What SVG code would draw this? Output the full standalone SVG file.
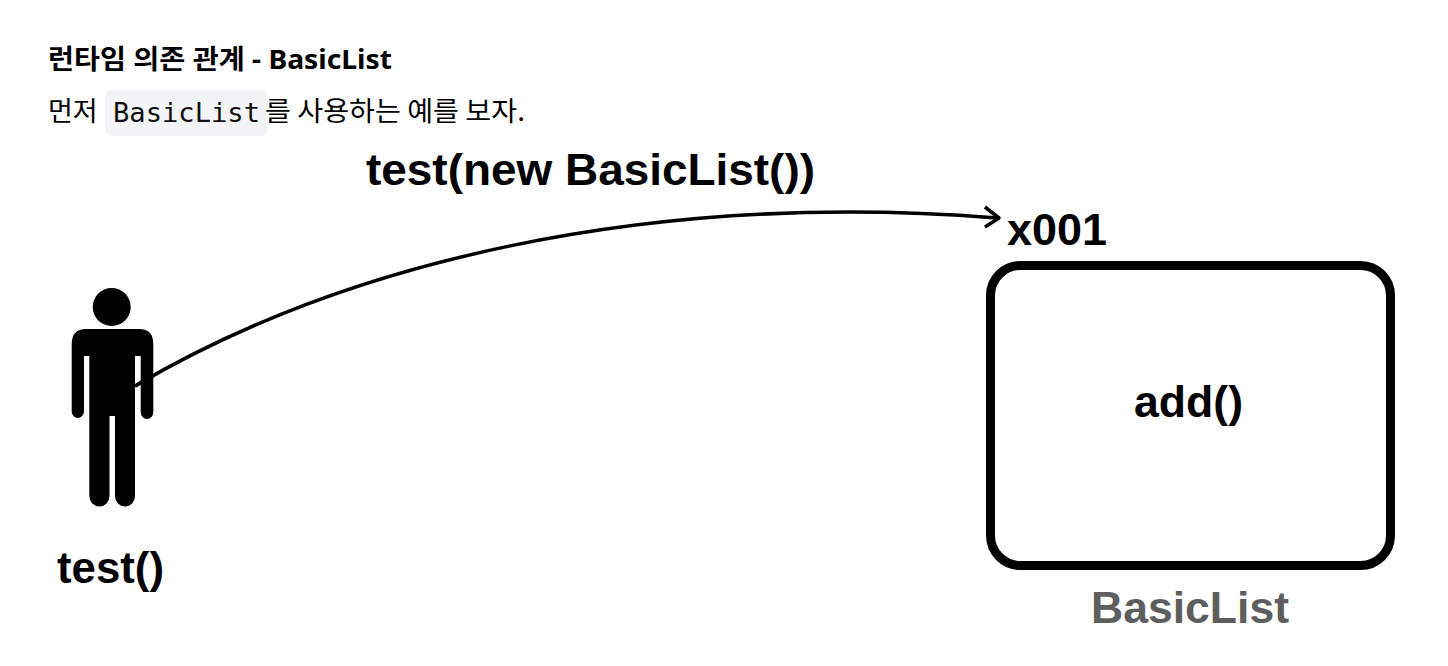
<svg xmlns="http://www.w3.org/2000/svg" width="1448" height="666" viewBox="0 0 1448 666">
<style>
.h{font-family:"Noto Sans","Noto Sans CJK KR",sans-serif;font-weight:700;font-size:27px;fill:#000}
.p{font-family:"Noto Sans CJK KR","Noto Sans",sans-serif;font-size:27px;fill:#000}
.m{font-family:"DejaVu Sans Mono","Liberation Mono",monospace;font-size:26px;fill:#111}
.l{font-family:"Liberation Sans",Arial,sans-serif;font-weight:700;font-size:44px;fill:#000}
</style>
<rect width="1448" height="666" fill="#fff"/>
<g id="intro">
<text class="h" x="48" y="68.500" textLength="344" lengthAdjust="spacingAndGlyphs">런타임 의존 관계 - BasicList</text>
<text class="p" x="48" y="120.500">먼저</text>
<rect x="105" y="90" width="163" height="46" rx="7" fill="#f3f4f6"/>
<text class="m" x="113" y="122" textLength="147" lengthAdjust="spacingAndGlyphs">BasicList</text>
<text class="p" x="265" y="120.500" textLength="260" lengthAdjust="spacingAndGlyphs">를 사용하는 예를 보자.</text>
</g>
<g id="connectors">
<path d="M135 386C340 265 640 190 997 218" fill="none" stroke="#000" stroke-width="3.500"/>
<path d="M985 207L999 218L985 227" fill="none" stroke="#000" stroke-width="3.500" stroke-linejoin="round"/>
</g>
<g id="person">
<circle cx="111.700" cy="307" r="19"/>
<path d="M86 329H139Q153.300 329 153.300 344V412A6.300 7 0 0 1 140.700 412V356H135V496A10 10.500 0 0 1 115 496V416H109.500V496A10.100 10.500 0 0 1 89.300 496V356H84V412A6.200 7 0 0 1 71.700 412V344Q71.700 329 86 329Z"/>
<path d="M135 386L153 376" stroke="#000" stroke-width="3.500"/>
<text class="l" x="57" y="583" textLength="107" lengthAdjust="spacingAndGlyphs">test()</text>
</g>
<g id="call-label"><text class="l" x="366" y="185" textLength="449" lengthAdjust="spacingAndGlyphs">test(new BasicList())</text></g>
<g id="address"><text class="l" x="1007" y="245" textLength="100" lengthAdjust="spacingAndGlyphs">x001</text></g>
<g id="basiclist">
<rect x="990.500" y="265.500" width="400" height="300" rx="30" fill="#fff" stroke="#000" stroke-width="9"/>
<text class="l" x="1134" y="417" textLength="109" lengthAdjust="spacingAndGlyphs">add()</text>
<text class="l" x="1091" y="623" textLength="198" lengthAdjust="spacingAndGlyphs" style="fill:#5e5e5e">BasicList</text>
</g>
</svg>
